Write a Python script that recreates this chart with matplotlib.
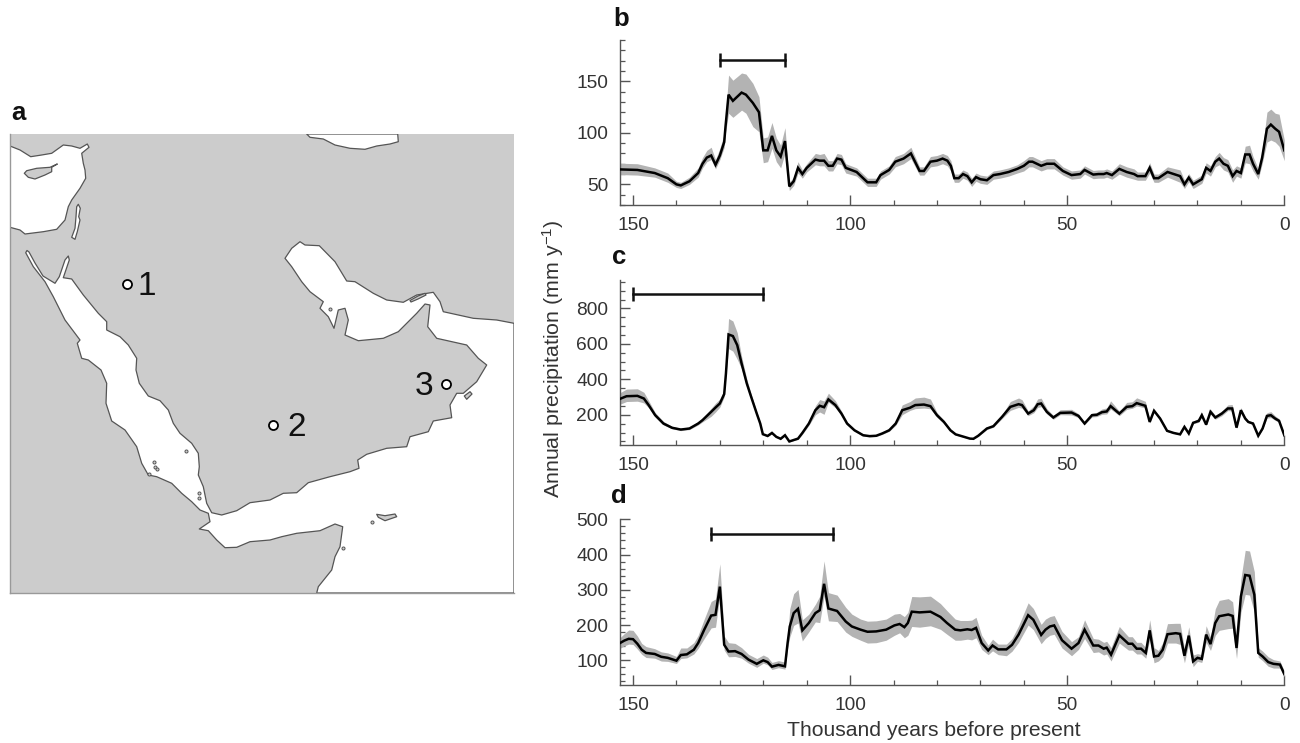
import numpy as np
import matplotlib
matplotlib.use("Agg")
import matplotlib.pyplot as plt
from matplotlib.patches import Polygon
from matplotlib.ticker import MultipleLocator, FixedLocator

plt.rcParams['font.family'] = ['Liberation Sans', 'DejaVu Sans']
plt.rcParams['mathtext.default'] = 'regular'

# ---------- panel b ----------
b_x = [153,149,145,142,140,139,137,135,134,133,
       132,131,130,129,128.7,128,127,125,124,122.4,
       121,120,119,118,117,116,115,114,113,112,
       111,110,108,107,106,105,104,103,102,101,
       98.5,96,94,93,91,89.6,87.7,86,84,83,
       81.5,80,78.7,77.6,76.8,76,75,74,73,72,
       71,70,68.5,67,65.5,63.5,61.5,60,58.8,58,
       56,54.7,53,51,49,47,46,44,42.8,41.6,
       40.9,39.7,38,36.3,34.6,33.8,32,31,30,29,
       26.9,24,23,22,21,19,18,17,15.9,15,
       14,13,11.9,11,10,9,8,7.2,6,5.1,
       4,3.1,2.1,1.2,0]
b_y = [64.5,64,61,56,50,49,53,61,70,76,
       78,69,78,91,106,137,131,139,137,129,
       120,83,83,97,83,77,92,48,53,66,
       60,66,74,73,73,68,68,75,74,66,
       62,52,52,59,64,72,75,80,63,63,
       72,73,75,73,68,56,56,60,58,52,
       57,55,54,59,60,62,65,68,72,72,
       68,70,70,63,59,60,64,59.5,60,60,
       61,59,65,62,60,58,58,66,56,56,
       62,58,50,56.5,50,55,66,63,72,75,
       70,68,58,63,61,79,79,70,60,76,
       104,108,104,101,83]
b_up = [6,6,5,5,3,3,4,5,6,7,
        8,5,7,8,10,19,20,19,20,19,
        15,12,13,13,12,11,13,4,4,6,
        4,4,6,6,7,5,5,5,5,4,
        4,4,4,4,4,5,5,6,4,4,
        5,5,5,5,5,4,4,4,4,4,
        4,4,4,4,4,4,4,5,5,5,
        5,5,5,4,4,4,4,4,4,4,
        4,4,5,5,5,4,4,5,4,4,
        5,6,4,4,4,4,5,5,5,6,
        6,6,6,5,5,8,9,7,5,6,
        16,15,15,17,10]
b_dn = [5,5,4,4,3,3,3,4,4,4,
        4,4,4,5,6,18,16,17,18,23,
        19,12,11,12,11,11,12,4,4,5,
        4,4,5,5,5,5,5,5,5,5,
        4,4,4,4,4,5,5,5,4,4,
        5,5,5,5,5,4,4,4,4,4,
        4,4,4,4,4,4,4,5,5,5,
        5,5,5,4,4,4,4,4,4,4,
        4,4,5,5,5,4,4,5,4,4,
        5,6,4,4,4,4,5,5,5,6,
        6,6,6,5,5,8,9,7,5,6,
        13,15,13,14,10]

# ---------- panel c ----------
c_x = [153,151.5,149,147.5,146.4,144.9,143,141,139,137,
       135,134,132,131,130,129,128.6,128,127,126,
       125,123.8,122.8,121.5,120.7,120.1,119,118,117,116,
       115,114,113,112,111,109.5,108,107,106,105,
       103.4,102,100.7,99,97,95.5,94,92.6,91,89.5,
       88,86.2,85,83,81.5,80,78.4,76.9,75.7,73.9,
       72.4,71.6,70.5,68.5,67,65,63.1,61.2,60.4,59,
       57.7,56.8,56,54.7,53.2,51.6,49,47.4,46,44.3,
       43.2,42,40.9,40,38,36.3,35,34,32,31,
       30,28.6,27,25.5,24,23,22,21,19.7,19,
       18,17,15.9,14.4,13,12,11,10,9,8.3,
       7.2,6,5,4,3.1,2.1,1.2,0]
c_y = [290,305,307,292,255,198,151,127,117,123,
       151,170,217,241,264,317,433,653,644,593,
       490,377,302,207,151,91,81,98,76,65,
       85,50,58,66,98,151,226,251,243,287,
       255,207,151,113,85,80,82,95,113,151,
       226,240,255,258,249,198,160,113,90,77,
       66,65,82,123,136,189,245,260,255,207,
       226,260,264,217,185,211,213,194,151,198,
       200,215,219,249,207,245,249,266,251,160,
       223,179,110,98,90,132,95,155,166,198,
       145,217,185,207,236,236,128,226,179,160,
       151,82,123,194,198,179,166,85]
c_up = [35,40,40,35,25,15,12,8,8,8,
        10,12,20,25,25,25,30,90,85,70,
        40,25,15,10,8,5,4,4,4,4,
        4,3,4,5,8,12,25,35,35,35,
        25,15,10,8,6,6,6,8,10,12,
        30,35,40,42,40,15,10,6,5,4,
        3,3,5,8,8,12,30,35,30,15,
        25,30,30,18,12,18,18,12,8,12,
        14,18,20,30,14,25,25,30,25,8,
        8,8,5,5,3,4,4,8,15,15,
        8,15,12,15,20,22,8,15,12,8,
        8,5,8,18,20,15,12,5]
c_dn = [30,30,30,25,15,10,8,6,6,6,
        8,10,25,25,20,15,10,80,85,80,
        30,20,15,10,6,4,4,4,4,3,
        3,3,3,5,8,10,25,35,40,15,
        15,10,8,6,5,4,4,5,6,10,
        25,15,20,20,15,12,8,6,4,3,
        2,2,4,6,6,10,20,18,18,12,
        14,18,18,12,10,10,14,10,6,10,
        10,12,14,16,12,14,12,16,12,6,
        6,5,4,3,3,3,3,5,8,10,
        6,10,10,12,12,14,6,12,8,5,
        6,3,5,12,14,10,8,3]

# ---------- panel d ----------
d_x = [153,152,151,150,149,148,147,145,143.5,142,
       140,139,137.6,136,135,133.6,132,131,130,129,
       128,126.5,125,123.4,121.5,120,119,118,116.5,115,
       114.4,113.9,113,112,111,109.5,108,107,106,105,
       103,101,99.6,97.6,96,94,91.7,89.8,88.6,87.5,
       86.7,85.8,84,81.5,79.2,77.7,75.8,74.6,73,72,
       71,69.7,68.2,67.2,65.9,64,62.7,61.2,59,57.8,
       56,55,54,53,51.2,49,47.4,46,44,42.8,
       41.6,40.9,39.9,38,35.9,35,34,33,31.9,31,
       30,29,28,26.9,25,24,23,22,21,20,
       19,18,17,15.9,15,12.9,11.9,11,10,9,
       8,6.9,6,5,3.7,2.5,1,0]
d_y = [149,156,161,160,147,130,121,118,110,107,
       99,115,117,130,149,187,227,229,309,144,
       125,126,118,102,90,100,95,82,87,83,
       149,196,234,246,185,206,234,242,317,247,
       240,210,196,187,181,182,187,199,203,194,
       206,238,236,238,223,206,187,185,188,186,
       192,149,128,142,131,131,144,173,228,215,
       172,187,196,199,157,133,149,187,142,142,
       133,136,116,171,147,147,133,133,121,185,
       111,113,130,174,177,175,113,170,97,107,
       104,173,146,206,225,230,226,135,281,342,
       340,286,121,111,95,90,88,61]
d_up = [15,20,25,25,22,18,18,15,14,14,
        12,20,18,20,22,30,40,45,65,25,
        25,22,18,15,15,15,14,12,12,12,
        20,50,55,55,30,25,25,40,65,45,
        45,40,35,30,30,30,30,32,30,30,
        30,43,44,44,38,35,30,28,25,28,
        30,22,15,18,15,15,18,25,35,32,
        30,30,28,28,25,20,18,28,20,18,
        18,18,20,25,20,20,18,18,15,30,
        25,15,20,30,28,30,20,25,18,12,
        12,25,20,40,45,45,40,30,50,70,
        70,65,15,15,15,12,10,8]
d_dn = [15,15,15,15,15,13,13,12,12,10,
        8,10,10,12,15,25,35,35,25,15,
        15,15,12,10,10,8,8,8,8,8,
        15,30,35,40,30,25,25,35,35,35,
        30,30,28,30,32,32,30,28,25,30,
        35,42,42,40,35,32,30,28,28,28,
        28,18,12,15,15,18,18,22,28,28,
        25,25,25,25,22,20,18,25,20,18,
        18,18,18,22,18,18,15,15,15,25,
        18,15,20,25,28,30,20,22,15,10,
        10,22,18,35,40,40,35,30,45,55,
        55,50,12,12,12,12,10,8]

# humid-interval bars (thousand years before present, bar height)
b_range = [130, 115]; b_level = 171
c_range = [150, 120]; c_level = 881
d_range = [132, 104]; d_level = 458

# ---------- map outlines (map-frame pixel coordinates) ----------
med_sea = [(10,146),(20,150),(30.7,156.7),(41.7,155),(51.7,153.3),(63.3,145),(71.7,146),(80,148.3),
           (87.3,144),(89,147.3),(81.7,153.3),(83.3,163.3),(85,170),(85.7,178.3),(80,188.3),(71.7,200),
           (68.3,206.7),(65,220),(56.7,229.3),(43.3,231.7),(25,234),(20,230),(10,227.3)]
cyprus = [(57.3,164),(50,167.3),(36.7,168.3),(26.7,170.7),(24.3,173.3),(28.3,177.3),(35,179),(45,175),
          (51.7,171.7),(51.7,167.3)]
dead_sea = [(78.3,204.3),(80.3,208.3),(78.7,216.7),(80,220),(77.3,231.7),(75,239.3),(71.7,237.3),
            (75,228.3),(76,216.7),(76.7,206.7)]
caspian = [(306.7,134),(310,137.3),(323.3,139),(335,145),(350,148.3),(365,149.3),(376.7,146),(390,144),
           (398.3,141.7),(397.7,134)]
main_sea = [(29,252),(35,263),(43,276),(55,283.3),(59.3,276.7),(65,260),(68.3,256),(69.3,260),(63.3,277.7),
            (71.7,279),(83.3,295),(98.3,313.3),(106.7,321.7),(106.7,330),(120,336.7),(128.3,345),
            (136.7,358.3),(136,370),(139.3,383.3),(148.3,396),(160,400.7),(168.3,410),(173.3,423.3),
            (180,433.3),(191.7,443.3),(198.3,453.3),(199.3,466.7),(198.3,475),(203.3,486.7),(206.7,503.3),
            (211.7,512.7),(221.7,515),(236.7,510.7),(250,502.7),(270,500),(283.3,493.3),(296.7,492.7),
            (308.3,482.7),(330,476.7),(350,471.7),(359,468.3),(357.7,460),(366.7,454.3),(386.7,448.3),
            (406.7,446.7),(410,436.7),(428.3,431.7),(433.3,421),(451.7,417.7),(450,405),(456.7,393.3),
            (463.3,393.3),(476.7,381.7),(486.7,365),(478.3,358.3),(466.7,345),(436.7,338.3),(427.7,326.7),
            (430,305),(425,304),(416.7,313.3),(398.3,331.7),(383.3,338.3),(358.3,340.7),(345,335),(348.3,320),
            (345,308.3),(338.3,310),(334,328.3),(328.3,316.7),(320,308.3),(323.3,301.7),(310,291.7),
            (301.7,281.7),(291.7,266.7),(285,258.3),(291.7,248.3),(300,241.7),(305,245),(319.3,245.7),
            (335,261.7),(346.7,281),(355,281.7),(373.3,293.3),(386.7,300),(403.3,302.3),(416.7,295),
            (433.3,292.3),(440,301.7),(443.3,311.7),(473.3,318.3),(496.7,320),(514,323.3),(514,593),
            (316.7,593),(318.3,586.7),(331.7,570),(335,556.7),(340,546.7),(342.7,526.7),(335,524),(320,530.7),
            (296.7,533.3),(281.7,536.7),(270,540),(250,541.7),(236.7,547.3),(225,547.7),(216.7,540),
            (208.3,530.7),(199.3,529),(210,521.7),(208.3,513.3),(200,510),(191.7,501.7),(181.7,493.3),
            (171.7,483.3),(156.7,476.7),(148.3,475),(141.7,463.3),(136.7,446.7),(125,430),(111.7,421),
            (106,403.3),(106.7,383.3),(101,370),(88.3,360),(81.7,358.3),(77.3,343.3),(80,340),(65,320),
            (53.3,296.7),(45,281.7),(33.3,266.7),(25.7,252.7),(27,250.5)]
socotra = [(376.7,514.3),(385,515.7),(395,514),(396.7,516.7),(385,520.7),(378.3,517.3)]
masirah = [(464.3,396),(470,391.7),(472,394),(466.7,399.3)]
qeshm = [(410,300.5),(418,296),(425,293.3),(426,295),(418,299),(411,302)]
small_islands_x = [372,342.7,186,154,154.7,157.5,149,199.3,199.3,330]
small_islands_y = [522,548,450.7,461.7,467.3,468.5,474,493.3,497.7,309]
site_x = [127,273,446]
site_y = [284,425,384]
site_names = ['1','2','3']
site_label_x = [147,297,424]

W, H = 1300, 743
fig = plt.figure(figsize=(13, 7.43), dpi=100, facecolor='white')

def axes_px(l, t, r, b):
    return fig.add_axes([l/W, 1-b/H, (r-l)/W, (b-t)/H])

# ---------- map ----------
am = axes_px(10, 134, 514, 593)
am.set_xlim(10, 514); am.set_ylim(593, 134)
am.set_facecolor('#cccccc')
for s in am.spines.values():
    s.set_visible(False)
for s in ('left', 'bottom'):
    am.spines[s].set_visible(True)
    am.spines[s].set_color('#999999')
    am.spines[s].set_linewidth(1.0)
am.set_xticks([]); am.set_yticks([])
COAST = '#555555'
for poly, fc in [(med_sea,'white'),(caspian,'white'),(main_sea,'white'),(dead_sea,'white'),
                 (cyprus,'#cccccc'),(socotra,'#cccccc'),(masirah,'#cccccc'),(qeshm,'#cccccc')]:
    am.add_patch(Polygon(poly, closed=True, facecolor=fc, edgecolor=COAST, linewidth=0.9, joinstyle='round'))
am.plot(small_islands_x, small_islands_y, ls='none', marker='o', ms=2.2, mfc='#cccccc', mec=COAST, mew=0.7)
am.plot(site_x, site_y, ls='none', marker='o', ms=6.5, mfc='white', mec='black', mew=1.3, zorder=5)
for lx, sy, name in zip(site_label_x, site_y, site_names):
    am.text(lx, sy - 1, name, fontsize=24, color='#111111', ha='center', va='center_baseline', zorder=5)

# ---------- time series ----------
TEXT = '#333333'
AXC = '#555555'
def panel(box, x, y, up, dn, ylim, major, minor, rng, level):
    ax = axes_px(*box)
    x = np.array(x); y = np.array(y, float)
    ax.fill_between(x, y - np.array(dn), y + np.array(up), color='#b3b3b3', lw=0, zorder=2)
    ax.plot(x, y, color='black', lw=1.8, zorder=3, solid_joinstyle='miter')
    ax.plot(rng, [level, level], color='#111111', lw=1.8, marker='|', ms=10, mew=1.8, zorder=4)
    ax.set_xlim(153, 0); ax.set_ylim(*ylim)
    ax.spines['top'].set_visible(False); ax.spines['right'].set_visible(False)
    for s in ('left', 'bottom'):
        ax.spines[s].set_color(AXC); ax.spines[s].set_linewidth(1.0)
    ax.xaxis.set_major_locator(MultipleLocator(50))
    ax.xaxis.set_minor_locator(MultipleLocator(10))
    ax.yaxis.set_major_locator(FixedLocator(major))
    ax.yaxis.set_minor_locator(MultipleLocator(minor))
    ax.tick_params(which='major', direction='in', length=7, width=1.0, color=AXC,
                   labelsize=13.8, labelcolor=TEXT, pad=8.5)
    ax.tick_params(which='minor', direction='in', length=3.5, width=0.9, color=AXC)
    return ax

panel((620, 40, 1284.3, 205), b_x, b_y, b_up, b_dn, (30, 190), [50,100,150], 10, b_range, b_level)
panel((620, 280, 1284.3, 445), c_x, c_y, c_up, c_dn, (30, 960), [200,400,600,800], 50, c_range, c_level)
panel((620, 519.3, 1284.3, 685), d_x, d_y, d_up, d_dn, (30, 500), [100,200,300,400,500], 20, d_range, d_level)

# ---------- texts ----------
for lab, px, py in [('a',18,113),('b',621,19),('c',619,257),('d',619,496)]:
    fig.text(px/W, 1-py/H, lab, fontsize=18.5, fontweight='bold', color='#111111', ha='center', va='center')
fig.text(553/W, 1-359/H, 'Annual precipitation (mm y$^{-1}$)', rotation=90, fontsize=15.4,
         color=TEXT, ha='center', va='center')
fig.text(933.5/W, 1-730/H, 'Thousand years before present', fontsize=15.2,
         color=TEXT, ha='center', va='center')

fig.savefig('out.png', dpi=100, facecolor='white')
